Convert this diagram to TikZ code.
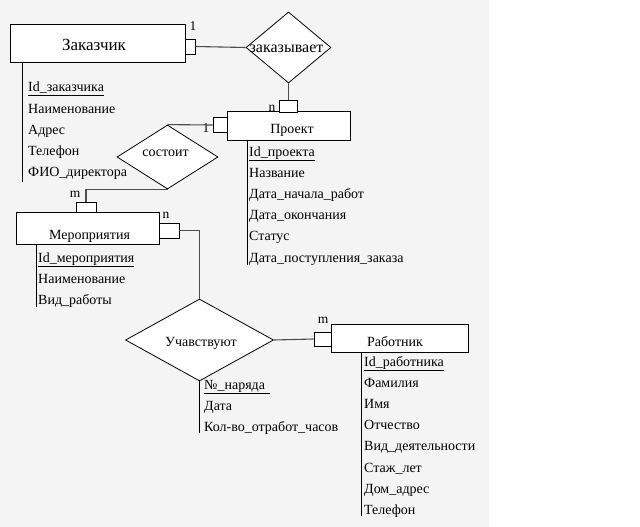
\documentclass[tikz,border=0pt]{standalone}
\usepackage{fontspec}
\setmainfont{Liberation Serif}
\usepackage{xcolor}
\usetikzlibrary{shapes.geometric,positioning}

\definecolor{bggray}{HTML}{F4F4F4}

\tikzset{
	entity/.style={draw, fill=white, line width=0.8pt, inner sep=0pt},
	relation/.style={diamond, draw, fill=white, line width=0.8pt, inner sep=0pt},
	keysq/.style={draw, fill=white, line width=0.8pt, inner sep=0pt},
	etext/.style={font=\fontsize{14}{16}\selectfont, text height=9.5pt, text depth=0pt, inner sep=0pt},
	card/.style={font=\fontsize{13.5}{15}\selectfont, inner sep=0pt},
	attrs/.style={font=\fontsize{14}{21.2}\selectfont, text width=170pt, align=left, inner sep=0pt, anchor=base west},
	link/.style={draw=black!70, line width=1.1pt},
	attrline/.style={draw=black, line width=0.8pt}
}

\begin{document}
\begin{tikzpicture}[x=1pt,y=-1pt]
		
		\useasboundingbox (0,0) rectangle (640,527);
		\fill[bggray] (0,0) rectangle (489,527);
		
		% Zakazchik
		\node [entity,
		minimum width=175pt,
		minimum height=38pt,
		label={[etext, font=\fontsize{17}{19}\selectfont, xshift=-3.5pt, yshift=-3pt]center:Заказчик}
		] (zakazchik) at (97.5,43) {};
		
		\node [keysq,
		minimum width=10pt,
		minimum height=15pt
		] (zaksq) at (190,46.5) {};
		
		% zakazyvaet
		\node [relation,
		minimum width=85pt,
		minimum height=71pt,
		label={[etext, font=\fontsize{16}{18}\selectfont, xshift=-2pt]center:заказывает}
		] (zakazyvaet) at (288.5,47.5) {};
		
		% Proekt
		\node [entity,
		minimum width=123pt,
		minimum height=29pt,
		label={[etext, xshift=3.5pt, yshift=-3.5pt]center:Проект}
		] (proekt) at (288.5,125.5) {};
		
		\node [keysq,
		minimum width=18pt,
		minimum height=12pt
		] (prtopsq) at (288.5,106) {};
		
		\node [keysq,
		minimum width=14pt,
		minimum height=15pt
		] (prleftsq) at (220,125) {};
		
		% sostoit
		\node [relation,
		minimum width=101pt,
		minimum height=64pt,
		label={[etext, xshift=-2pt, yshift=5pt]center:состоит}
		] (sostoit) at (167.5,157) {};
		
		% Meropriyatiya
		\node [entity,
		minimum width=143pt,
		minimum height=32pt,
		label={[etext, xshift=2pt, yshift=-7pt]center:Мероприятия}
		] (merop) at (87.5,228) {};
		
		\node [keysq,
		minimum width=20pt,
		minimum height=10pt
		] (mertopsq) at (86,207) {};
		
		\node [keysq,
		minimum width=20pt,
		minimum height=15pt
		] (merrightsq) at (169,230.5) {};
		
		% Uchavstvuyut
		\node [relation,
		minimum width=148pt,
		minimum height=82pt,
		label={[etext, xshift=1.5pt, yshift=-2pt]center:Учавствуют}
		] (uchast) at (199.5,340) {};
		
		% Rabotnik
		\node [entity,
		minimum width=137pt,
		minimum height=28pt,
		label={[etext, xshift=-4.5pt, yshift=-4pt]center:Работник}
		] (rabotnik) at (399.5,338) {};
		
		\node [keysq,
		minimum width=17pt,
		minimum height=14pt
		] (rabsq) at (322.5,339) {};
		
		% cardinalities
		\node [card] (c1) at (193,26) {1};
		\node [card] (c2) at (272,108) {n};
		\node [card] (c3) at (206,128) {1};
		\node [card] (c4) at (75,194.5) {m};
		\node [card] (c5) at (166,215) {n};
		\node [card] (c6) at (323,320.5) {m};
		
		% attributes
		\node [attrs] (zakattr) at (28,92) {\underline{Id\_заказчика}\\
			Наименование\\
			Адрес\\
			Телефон\\
			ФИО\_директора};
		
		\node [attrs] (prattr) at (249,156) {\underline{Id\_проекта}\\
			Название\\
			Дата\_начала\_работ\\
			Дата\_окончания\\
			Статус\\
			Дата\_поступления\_заказа};
		
		\node [attrs] (merattr) at (38,262) {\underline{Id\_мероприятия}\\
			Наименование\\
			Вид\_работы};
		
		\node [attrs] (uchattr) at (204,389) {\underline{№\_наряда\ }\\
			Дата\\
			Кол-во\_отработ\_часов};
		
		\node [attrs] (rabattr) at (364,366) {\underline{Id\_работника}\\
			Фамилия\\
			Имя\\
			Отчество\\
			Вид\_деятельности\\
			Стаж\_лет\\
			Дом\_адрес\\
			Телефон};
		
		\coordinate (zakend) at (22,182);
		\coordinate (prend) at (247,265);
		\coordinate (merend) at (36,307);
		\coordinate (uchend) at (199.5,433);
		\coordinate (rabend) at (361,516);
		
		\draw[attrline] (zakend |- zakazchik.south) -- (zakend);
		\draw[attrline] (prend |- proekt.south) -- (prend);
		\draw[attrline] (merend |- merop.south) -- (merend);
		\draw[attrline] (uchast.south) -- (uchend);
		\draw[attrline] (rabend |- rabotnik.south) -- (rabend);
		
		% links
		\draw[link] (zaksq.east) -- (zakazyvaet.west);
		\draw[link] (zakazyvaet.south) -- (prtopsq.north);
		\draw[link] (prleftsq.west) -- (sostoit.north);
		\draw[link] (sostoit.south) -| (mertopsq.north);
		\draw[link] (merrightsq.east) -| (uchast.north);
		\draw[link] (uchast.east) -- (rabsq.west);
		
		\end{tikzpicture}
\end{document}
